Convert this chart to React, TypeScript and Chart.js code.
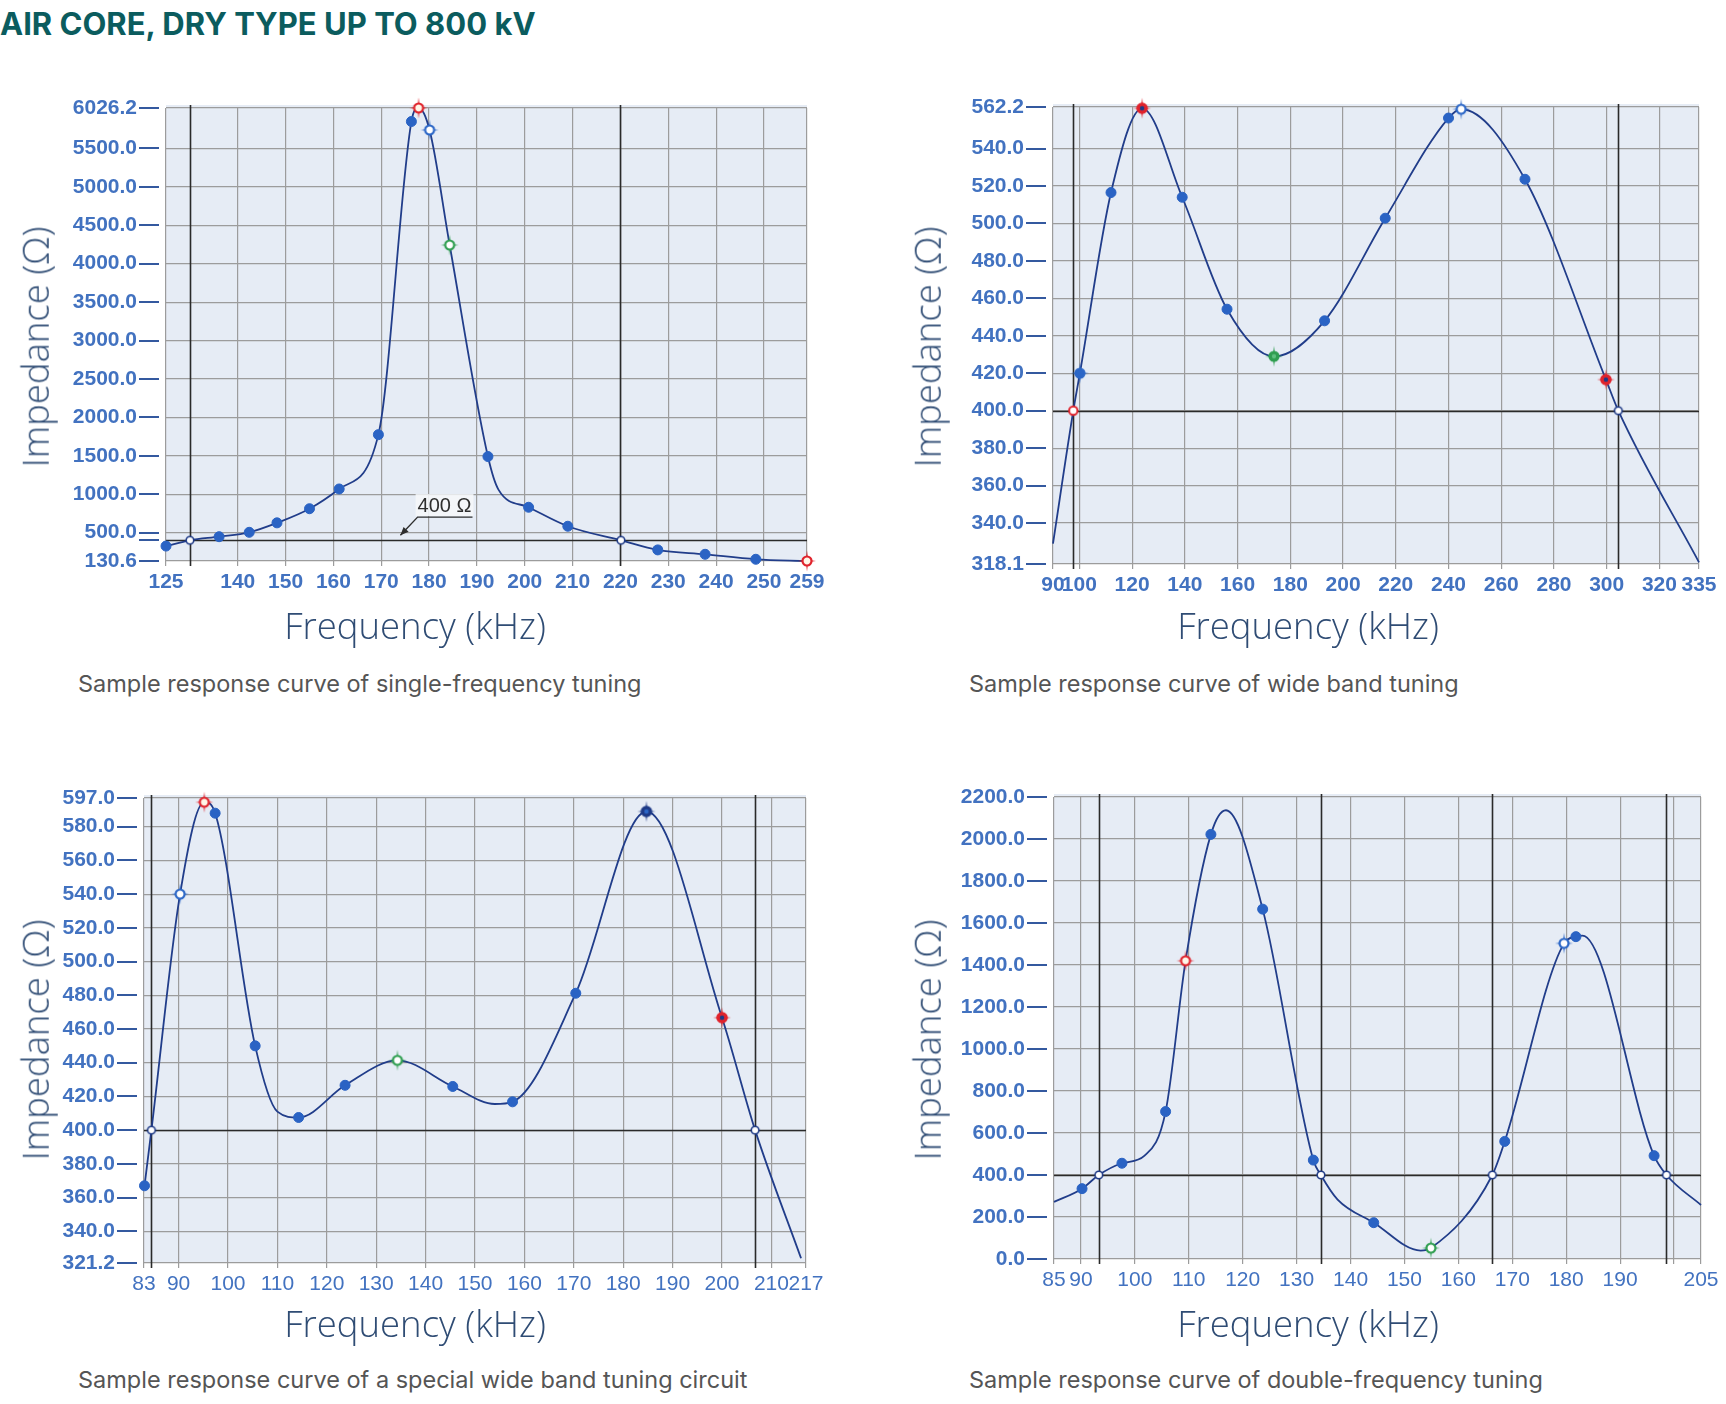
import React, { useEffect, useRef } from 'react';
import { Chart, registerables } from 'chart.js';

Chart.register(...registerables);

// ---- Single-frequency tuning ----
const singleFreq = [125, 130, 136.1, 142.4, 148.2, 155, 161.2, 169.4, 176.3, 177.8, 180.1, 184.3, 192.3, 194.5, 200.8, 209, 220.1, 227.8, 237.7, 248.3, 259];
const singleImpedance = [325, 400, 447, 504, 627, 811, 1068, 1775, 5850, 6026.2, 5740, 4243, 1490, 1060, 830, 583, 400, 275, 218, 153, 130.6];
const singleMarkers = ['dot', 'open', 'dot', 'dot', 'dot', 'dot', 'dot', 'dot', 'dot', 'redStar', 'blueStar', 'greenStar', 'dot', 'none', 'dot', 'dot', 'open', 'dot', 'dot', 'dot', 'redStar'];
const singleXTicks = [125, 140, 150, 160, 170, 180, 190, 200, 210, 220, 230, 240, 250, 259];
const singleYTicks = [130.6, 500, 1000, 1500, 2000, 2500, 3000, 3500, 4000, 4500, 5000, 5500, 6026.2];
const singleCrossings = [130, 220];

// ---- Wide band tuning ----
const wideFreq = [90, 97.7, 100.2, 112, 123.8, 139, 156, 173.8, 193, 216, 240, 244.8, 269, 299.7, 304.4, 335];
const wideImpedance = [329, 400, 420, 516.5, 561.5, 514, 454.2, 429, 448, 502.8, 556.3, 561, 523.6, 416.6, 400, 319];
const wideMarkers = ['none', 'redRing', 'blueStarFilled', 'dot', 'redStarDot', 'dot', 'dot', 'greenStarFilled', 'dot', 'dot', 'dot', 'blueStar', 'dot', 'redStarDot', 'open', 'none'];
const wideXTicks = [90, 100, 120, 140, 160, 180, 200, 220, 240, 260, 280, 300, 320, 335];
const wideYTicks = [318.1, 340, 360, 380, 400, 420, 440, 460, 480, 500, 520, 540, 562.2];
const wideCrossings = [97.7, 304.4];

// ---- Special wide band tuning circuit ----
const specialFreq = [83.1, 84.5, 90.3, 95.2, 97.4, 105.5, 110, 114.3, 123.7, 134.3, 145.5, 154, 157.6, 170.4, 184.7, 200, 206.7, 216];
const specialImpedance = [367, 400, 540, 594.5, 588, 450, 411, 407.5, 426.6, 441.4, 425.9, 415.5, 416.8, 481.2, 589, 466.7, 400, 324];
const specialMarkers = ['dot', 'open', 'blueStar', 'redStar', 'dot', 'dot', 'none', 'dot', 'dot', 'greenStar', 'dot', 'none', 'dot', 'dot', 'navyStar', 'redStarDot', 'open', 'none'];
const specialXTicks = [83, 90, 100, 110, 120, 130, 140, 150, 160, 170, 180, 190, 200, 210, 217];
const specialYTicks = [321.2, 340, 360, 380, 400, 420, 440, 460, 480, 500, 520, 540, 560, 580, 597];
const specialCrossings = [84.5, 206.7];

// ---- Double-frequency tuning ----
const doubleFreq = [85, 90.2, 93.3, 97.6, 101.8, 105.7, 109.4, 114.1, 116.9, 123.7, 133.1, 134.5, 137.6, 144.3, 153, 154.9, 166.3, 168.6, 179.6, 181.8, 183, 196.3, 198.6, 205];
const doubleImpedance = [272, 335, 400, 456, 492, 702, 1420, 2022, 2137, 1666, 471, 400, 283, 173, 40, 52, 400, 560, 1503, 1535, 1540, 492, 400, 257];
const doubleMarkers = ['none', 'dot', 'open', 'dot', 'none', 'dot', 'redStar', 'dot', 'none', 'dot', 'dot', 'open', 'none', 'dot', 'none', 'greenStar', 'open', 'dot', 'blueStar', 'dot', 'none', 'dot', 'open', 'none'];
const doubleXTicks = [85, 90, 100, 110, 120, 130, 140, 150, 160, 170, 180, 190, 200, 205];
const doubleXHidden = [200];
const doubleYTicks = [0, 200, 400, 600, 800, 1000, 1200, 1400, 1600, 1800, 2000, 2200];
const doubleCrossings = [93.3, 134.5, 166.3, 198.6];

const REF_IMPEDANCE = 400;

const TICK_SIZE = 21;
const Y_LABEL_PAD = 29;
const PAD_L = 120;
// half a label line plus the label padding: Chart.js reserves this above the plot
const PAD_T = Math.ceil((TICK_SIZE * 1.2) / 2) + Y_LABEL_PAD;
const PAD_R = 30;
const PAD_B = 52;

const COLORS = {
  line: '#213d8a',
  dot: '#2a63c4',
  red: '#e0232c',
  green: '#2f9e50',
  blue: '#2c67c7',
  navy: '#1e3a86',
  grid: '#9c9c9c',
  dark: '#2a2a2a',
  plotBg: '#e6ecf5',
  tick: '#4272c0',
  tickMark: '#34599f',
  axisTitle: '#2f4c74',
  caption: '#555555',
};

type Rect = { l: number; t: number; r: number; b: number };

type PanelSpec = {
  id: string;
  freq: number[];
  impedance: number[];
  markers: string[];
  xTicks: number[];
  xHidden?: number[];
  xBold: boolean;
  yTicks: number[];
  yExtraMarks?: number[];
  crossings: number[];
  plot: Rect;
  xTitle: [number, number];
  yTitle: [number, number];
  caption: string;
  captionAt: [number, number];
  note?: boolean;
};

const PANELS: PanelSpec[] = [
  {
    id: 'single',
    freq: singleFreq,
    impedance: singleImpedance,
    markers: singleMarkers,
    xTicks: singleXTicks,
    xBold: true,
    yTicks: singleYTicks,
    yExtraMarks: [REF_IMPEDANCE],
    crossings: singleCrossings,
    plot: { l: 166, t: 108, r: 807, b: 561 },
    xTitle: [415, 625],
    yTitle: [35, 347],
    caption: 'Sample response curve of single-frequency tuning',
    captionAt: [78, 684],
    note: true,
  },
  {
    id: 'wide',
    freq: wideFreq,
    impedance: wideImpedance,
    markers: wideMarkers,
    xTicks: wideXTicks,
    xBold: true,
    yTicks: wideYTicks,
    crossings: wideCrossings,
    plot: { l: 1053, t: 107, r: 1699, b: 564 },
    xTitle: [1308, 625],
    yTitle: [927, 347],
    caption: 'Sample response curve of wide band tuning',
    captionAt: [969, 684],
  },
  {
    id: 'special',
    freq: specialFreq,
    impedance: specialImpedance,
    markers: specialMarkers,
    xTicks: specialXTicks,
    xBold: false,
    yTicks: specialYTicks,
    crossings: specialCrossings,
    plot: { l: 144, t: 798, r: 806, b: 1263 },
    xTitle: [415, 1323],
    yTitle: [35, 1040],
    caption: 'Sample response curve of a special wide band tuning circuit',
    captionAt: [78, 1380],
  },
  {
    id: 'double',
    freq: doubleFreq,
    impedance: doubleImpedance,
    markers: doubleMarkers,
    xTicks: doubleXTicks,
    xHidden: doubleXHidden,
    xBold: false,
    yTicks: doubleYTicks,
    crossings: doubleCrossings,
    plot: { l: 1054, t: 797, r: 1701, b: 1259 },
    xTitle: [1308, 1323],
    yTitle: [927, 1040],
    caption: 'Sample response curve of double-frequency tuning',
    captionAt: [969, 1380],
  },
];

// Label for the 400 Ω reference line (data coordinates)
const NOTE_TEXT = '400 Ω';
const NOTE_TEXT_AT = { x: 177.6, y: 845 };
const NOTE_ARROW_TIP = { x: 174, y: 465 };

type MarkerLook = { stroke: string; fill: string; spikes: boolean; r: number; lw: number; core?: string };

const MARKER_LOOKS: Record<string, MarkerLook> = {
  open: { stroke: COLORS.navy, fill: '#ffffff', spikes: false, r: 3.8, lw: 1.6 },
  redRing: { stroke: COLORS.red, fill: '#ffffff', spikes: false, r: 4.2, lw: 2 },
  redStar: { stroke: COLORS.red, fill: '#fff6e8', spikes: true, r: 4.5, lw: 2.2 },
  redStarDot: { stroke: COLORS.red, fill: COLORS.red, spikes: true, r: 5, lw: 1.6, core: COLORS.navy },
  blueStar: { stroke: COLORS.blue, fill: '#ffffff', spikes: true, r: 4.5, lw: 2.2 },
  blueStarFilled: { stroke: COLORS.blue, fill: COLORS.blue, spikes: true, r: 4.8, lw: 1.6 },
  greenStar: { stroke: COLORS.green, fill: '#ffffff', spikes: true, r: 4.5, lw: 2.2 },
  greenStarFilled: { stroke: COLORS.green, fill: COLORS.green, spikes: true, r: 4.8, lw: 1.6, core: '#5fbf7f' },
  navyStar: { stroke: COLORS.navy, fill: COLORS.navy, spikes: true, r: 5, lw: 1.6, core: COLORS.blue },
};

const markerCache: Record<string, HTMLCanvasElement> = {};

function markerImage(kind: string): HTMLCanvasElement | string {
  const look = MARKER_LOOKS[kind];
  if (!look) return 'circle';
  if (markerCache[kind]) return markerCache[kind];
  const c = document.createElement('canvas');
  c.width = 24;
  c.height = 24;
  const g = c.getContext('2d')!;
  g.translate(12, 12);
  if (look.spikes) {
    g.fillStyle = look.stroke;
    const spike = (dx: number, dy: number, len: number) => {
      g.beginPath();
      const px = -dy, py = dx;
      g.moveTo(px * 1.3, py * 1.3);
      g.lineTo(dx * len, dy * len);
      g.lineTo(-px * 1.3, -py * 1.3);
      g.closePath();
      g.fill();
    };
    spike(0, -1, 10.5);
    spike(0, 1, 10.5);
    spike(-1, 0, 9);
    spike(1, 0, 9);
  }
  g.beginPath();
  g.arc(0, 0, look.r, 0, Math.PI * 2);
  g.fillStyle = look.fill;
  g.fill();
  g.lineWidth = look.lw;
  g.strokeStyle = look.stroke;
  g.stroke();
  if (look.core) {
    g.beginPath();
    g.arc(0, 0, look.r * 0.45, 0, Math.PI * 2);
    g.fillStyle = look.core;
    g.fill();
  }
  markerCache[kind] = c;
  return c;
}

const TICK_FAMILY = '"Liberation Sans", Arial, sans-serif';

function formatImpedance(v: number) {
  return Number(v).toFixed(1);
}

function ResponsePanel({ spec }: { spec: PanelSpec }) {
  const ref = useRef<HTMLCanvasElement | null>(null);
  const { plot } = spec;
  const width = plot.r - plot.l + PAD_L + PAD_R;
  const height = plot.b - plot.t + PAD_T + PAD_B;

  useEffect(() => {
    if (!ref.current) return;
    const xMin = spec.xTicks[0];
    const xMax = spec.xTicks[spec.xTicks.length - 1];
    const yMin = spec.yTicks[0];
    const yMax = spec.yTicks[spec.yTicks.length - 1];
    const hidden = spec.xHidden || [];

    const decor = {
      id: 'panelDecor',
      beforeDraw(chart: any) {
        const { ctx, chartArea: a } = chart;
        ctx.save();
        ctx.fillStyle = COLORS.plotBg;
        ctx.fillRect(a.left, a.top - 3, a.right - a.left, a.bottom - a.top + 3);
        ctx.restore();
      },
      beforeDatasetsDraw(chart: any) {
        const { ctx, chartArea: a, scales } = chart;
        ctx.save();
        ctx.strokeStyle = COLORS.dark;
        ctx.lineWidth = 1.6;
        ctx.beginPath();
        for (const f of spec.crossings) {
          const x = Math.round(scales.x.getPixelForValue(f)) + 0.5;
          ctx.moveTo(x, a.top - 3);
          ctx.lineTo(x, a.bottom + 5);
        }
        const y = Math.round(scales.y.getPixelForValue(REF_IMPEDANCE)) + 0.5;
        ctx.moveTo(a.left, y);
        ctx.lineTo(a.right, y);
        ctx.stroke();
        ctx.restore();
      },
      afterDraw(chart: any) {
        const { ctx, chartArea: a, scales } = chart;
        ctx.save();
        ctx.strokeStyle = COLORS.tickMark;
        ctx.lineWidth = 2;
        ctx.beginPath();
        const marks = spec.yTicks.concat(spec.yExtraMarks || []);
        for (const v of marks) {
          const y = Math.round(scales.y.getPixelForValue(v));
          ctx.moveTo(a.left - 27, y);
          ctx.lineTo(a.left - 7, y);
        }
        ctx.stroke();

        if (spec.note) {
          const tx = scales.x.getPixelForValue(NOTE_TEXT_AT.x);
          const ty = scales.y.getPixelForValue(NOTE_TEXT_AT.y);
          const ax = scales.x.getPixelForValue(NOTE_ARROW_TIP.x);
          const ay = scales.y.getPixelForValue(NOTE_ARROW_TIP.y);
          ctx.font = '20px "Liberation Sans", Arial, sans-serif';
          const w = ctx.measureText(NOTE_TEXT).width;
          ctx.fillStyle = 'rgba(245,247,250,0.9)';
          ctx.fillRect(tx - 2, ty - 12, w + 4, 22);
          ctx.fillStyle = '#2e2e2e';
          ctx.textBaseline = 'middle';
          ctx.fillText(NOTE_TEXT, tx, ty);
          ctx.strokeStyle = '#2e2e2e';
          ctx.lineWidth = 1.4;
          ctx.beginPath();
          ctx.moveTo(tx + w + 1, ty + 11);
          ctx.lineTo(tx, ty + 11);
          ctx.lineTo(ax, ay);
          ctx.stroke();
          const ang = Math.atan2(ay - (ty + 11), ax - tx);
          ctx.beginPath();
          ctx.moveTo(ax, ay);
          ctx.lineTo(ax - 9 * Math.cos(ang - 0.4), ay - 9 * Math.sin(ang - 0.4));
          ctx.lineTo(ax - 9 * Math.cos(ang + 0.4), ay - 9 * Math.sin(ang + 0.4));
          ctx.closePath();
          ctx.fillStyle = '#2e2e2e';
          ctx.fill();
        }
        ctx.restore();
      },
    };

    const chart = new Chart(ref.current, {
      type: 'line',
      data: {
        datasets: [
          {
            data: spec.freq.map((f, i) => ({ x: f, y: spec.impedance[i] })),
            borderColor: COLORS.line,
            borderWidth: 1.8,
            cubicInterpolationMode: 'monotone',
            fill: false,
            clip: false,
            pointStyle: spec.markers.map((m) => markerImage(m)) as any,
            pointRadius: spec.markers.map((m) => (m === 'none' ? 0 : 5)),
            pointBackgroundColor: COLORS.dot,
            pointBorderColor: COLORS.dot,
            pointBorderWidth: 1,
          } as any,
        ],
      },
      options: {
        responsive: false,
        maintainAspectRatio: false,
        animation: false,
        events: [],
        layout: { padding: { left: 0, top: PAD_T, right: PAD_R, bottom: 0 } },
        plugins: { legend: { display: false }, tooltip: { enabled: false } },
        scales: {
          x: {
            type: 'linear',
            min: xMin,
            max: xMax,
            afterBuildTicks: (s: any) => {
              s.ticks = spec.xTicks.map((v) => ({ value: v }));
            },
            afterFit: (s: any) => {
              s.height = PAD_B;
            },
            grid: { color: COLORS.grid, lineWidth: 1.2, drawTicks: true, tickLength: 5, tickColor: COLORS.grid },
            border: { display: false },
            ticks: {
              color: COLORS.tick,
              font: { family: TICK_FAMILY, size: TICK_SIZE, weight: spec.xBold ? 'bold' : 'normal' },
              padding: 4,
              autoSkip: false,
              maxRotation: 0,
              callback: (v: any) => (hidden.includes(Number(v)) ? '' : String(v)),
            },
          },
          y: {
            type: 'linear',
            min: yMin,
            max: yMax,
            afterBuildTicks: (s: any) => {
              s.ticks = spec.yTicks.map((v) => ({ value: v }));
            },
            afterFit: (s: any) => {
              s.width = PAD_L;
            },
            grid: { color: COLORS.grid, lineWidth: 1.2, drawTicks: false },
            border: { display: false },
            ticks: {
              color: COLORS.tick,
              font: { family: TICK_FAMILY, size: TICK_SIZE, weight: 'bold' },
              padding: Y_LABEL_PAD,
              autoSkip: false,
              callback: (v: any) => formatImpedance(v),
            },
          },
        },
      } as any,
      plugins: [decor],
    });
    return () => chart.destroy();
  }, [spec]);

  const titleFont = '300 36.5px "Open Sans", "Noto Sans", sans-serif';

  return (
    <>
      <canvas
        ref={ref}
        width={width}
        height={height}
        style={{ position: 'absolute', left: plot.l - PAD_L, top: plot.t - PAD_T, width, height }}
      />
      <div
        style={{
          position: 'absolute',
          left: spec.xTitle[0],
          top: spec.xTitle[1],
          transform: 'translate(-50%, -50%)',
          font: titleFont,
          lineHeight: 1,
          color: COLORS.axisTitle,
          whiteSpace: 'nowrap',
        }}
      >
        Frequency (kHz)
      </div>
      <div
        style={{
          position: 'absolute',
          left: spec.yTitle[0],
          top: spec.yTitle[1],
          transform: 'translate(-50%, -50%) rotate(-90deg)',
          font: titleFont,
          lineHeight: 1,
          color: COLORS.axisTitle,
          whiteSpace: 'nowrap',
        }}
      >
        Impedance (Ω)
      </div>
      <div
        style={{
          position: 'absolute',
          left: spec.captionAt[0],
          top: spec.captionAt[1],
          transform: 'translateY(-50%)',
          font: '400 23.5px Inter, "Noto Sans", sans-serif',
          lineHeight: 1,
          color: COLORS.caption,
          whiteSpace: 'nowrap',
        }}
      >
        {spec.caption}
      </div>
    </>
  );
}

export default function App() {
  return (
    <div
      style={{
        position: 'absolute',
        left: 0,
        top: 0,
        width: 1726,
        height: 1404,
        background: '#ffffff',
        overflow: 'hidden',
      }}
    >
      <div
        style={{
          position: 'absolute',
          left: 0,
          top: 7,
          font: '700 31px Inter, "Noto Sans", sans-serif',
          lineHeight: '34px',
          color: '#0b5c5e',
          whiteSpace: 'nowrap',
        }}
      >
        AIR CORE, DRY TYPE UP TO 800 kV
      </div>
      {PANELS.map((p) => (
        <ResponsePanel key={p.id} spec={p} />
      ))}
    </div>
  );
}
